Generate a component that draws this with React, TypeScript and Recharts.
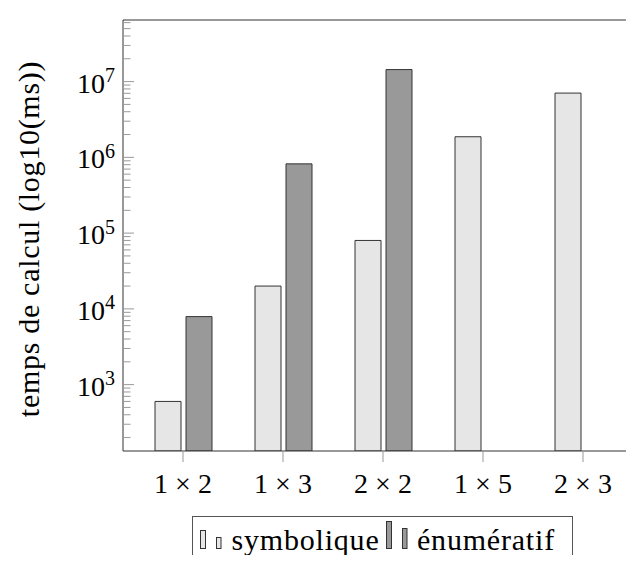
import React from 'react';
import { BarChart, Bar, XAxis, YAxis, Legend, Label } from 'recharts';

const categories = ['1 \u00d7 2', '1 \u00d7 3', '2 \u00d7 2', '1 \u00d7 5', '2 \u00d7 3'];
const symbolique = [600, 20000, 80000, 1870000, 7050000];
const enumeratif: (number | null)[] = [7900, 820000, 14400000, null, null];

const majorTicks = [1e3, 1e4, 1e5, 1e6, 1e7];
const decades = [1e2, 1e3, 1e4, 1e5, 1e6, 1e7];
const minorMultipliers = [2, 3, 4, 5, 6, 7, 8, 9];
const yDomain: [number, number] = [133, 6.5e7];

const seriesNames = ['symbolique', '\u00e9num\u00e9ratif'];
const seriesFills = ['#e6e6e6', '#999999'];

const data = categories.map((name, i) => ({
  name,
  symbolique: symbolique[i],
  enumeratif: enumeratif[i],
}));

const minorTicks: number[] = [];
decades.forEach((d) => minorMultipliers.forEach((m) => {
  const v = d * m;
  if (v > yDomain[0] && v < yDomain[1]) minorTicks.push(v);
}));
const allTicks = [...majorTicks, ...minorTicks].sort((a, b) => a - b);

const FONT = 'Liberation Serif';

const YTick = (props: any) => {
  const { x, y, payload, side } = props;
  const v = payload.value as number;
  const e = Math.log10(v);
  const isMajor = Math.abs(e - Math.round(e)) < 1e-9;
  const len = isMajor ? 11 : 7.5;
  const dir = side === 'left' ? 1 : -1;
  return (
    <g>
      <line x1={x} x2={x + dir * len} y1={y} y2={y} stroke="#999" strokeWidth={1} />
      {side === 'left' && isMajor && (
        <text x={x - 8} y={y + 11} textAnchor="end" fontFamily={FONT} fontSize={28} fill="#000">
          <tspan>10</tspan>
          <tspan dy={-10.5} fontSize={20}>{Math.round(e)}</tspan>
        </text>
      )}
    </g>
  );
};

const XTick = (props: any) => {
  const { x, y, payload } = props;
  return (
    <text x={x} y={y} dy={19.9} textAnchor="middle" fontFamily={FONT} fontSize={28} fill="#000">
      {payload.value}
    </text>
  );
};

const LegendBox = () => (
  <svg width={384} height={60} style={{ display: 'block', overflow: 'visible' }}>
    <rect x={0.5} y={0.5} width={380} height={70} fill="#fff" stroke="#555" strokeWidth={1} />
    <rect x={8.5} y={14.5} width={5} height={18} fill={seriesFills[0]} stroke="#333" />
    <rect x={24.5} y={21.5} width={4.5} height={11} fill={seriesFills[0]} stroke="#333" />
    <text x={39.5} y={34} fontFamily={FONT} fontSize={30} letterSpacing={0.8} fill="#000">{seriesNames[0]}</text>
    <rect x={194.5} y={5.5} width={5} height={27} fill={seriesFills[1]} stroke="#333" />
    <rect x={210.5} y={12.5} width={4.5} height={20} fill={seriesFills[1]} stroke="#333" />
    <text x={225} y={34} fontFamily={FONT} fontSize={30} letterSpacing={0.8} fill="#000">{seriesNames[1]}</text>
  </svg>
);

export default function App() {
  return (
    <div style={{ margin: -8, width: 634, height: 563, overflow: 'hidden', background: '#fff' }}>
      <BarChart
        width={680}
        height={600}
        data={data}
        margin={{ top: 19, right: 37, left: 0, bottom: 109 }}
        barGap={5}
      >
        <XAxis
          xAxisId="top"
          orientation="top"
          dataKey="name"
          height={1}
          tick={false}
          tickSize={11}
          interval={0}
          padding={{ left: 10, right: 9 }}
          axisLine={{ stroke: '#333' }}
          tickLine={{ stroke: '#999' }}
        />
        <XAxis
          dataKey="name"
          height={40}
          tickSize={11}
          tickMargin={11}
          interval={0}
          padding={{ left: 10, right: 9 }}
          axisLine={{ stroke: '#333' }}
          tickLine={{ stroke: '#999' }}
          tick={<XTick />}
        />
        <YAxis
          yAxisId="left"
          width={123}
          scale="log"
          type="number"
          domain={yDomain}
          allowDataOverflow
          ticks={allTicks}
          interval={0}
          tickSize={0}
          tickMargin={0}
          tickLine={false}
          axisLine={{ stroke: '#333' }}
          tick={<YTick side="left" />}
        >
          <Label
            content={() => (
              <text
                transform="translate(39,239) rotate(-90)"
                textAnchor="middle"
                fontFamily={FONT}
                fontSize={30}
                letterSpacing={0.7}
                fill="#000"
              >
                temps de calcul (log10(ms))
              </text>
            )}
          />
        </YAxis>
        <YAxis
          yAxisId="right"
          orientation="right"
          width={1}
          scale="log"
          type="number"
          domain={yDomain}
          allowDataOverflow
          ticks={allTicks}
          interval={0}
          tickSize={0}
          tickMargin={0}
          tickLine={false}
          axisLine={{ stroke: '#333' }}
          tick={<YTick side="right" />}
        />
        <Legend
          layout="horizontal"
          verticalAlign="middle"
          align="center"
          wrapperStyle={{ left: 192, top: 516, width: 384, height: 60 }}
          content={() => <LegendBox />}
        />
        <Bar yAxisId="left" dataKey="symbolique" name={seriesNames[0]} fill={seriesFills[0]} stroke="#333" strokeWidth={1} barSize={26} isAnimationActive={false} />
        <Bar yAxisId="left" dataKey="enumeratif" name={seriesNames[1]} fill={seriesFills[1]} stroke="#333" strokeWidth={1} barSize={26} isAnimationActive={false} />
      </BarChart>
    </div>
  );
}
